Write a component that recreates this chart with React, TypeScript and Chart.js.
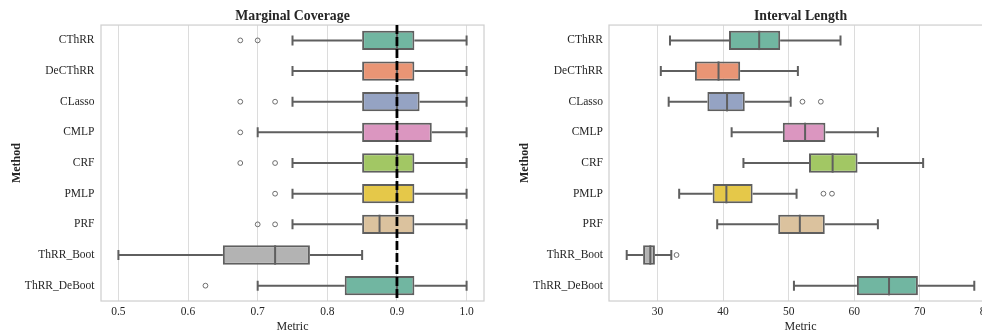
import React, { useEffect, useRef } from "react";
import { Chart, registerables } from "chart.js";

Chart.register(...registerables);

// ---------- data ----------
const METHODS = ["CThRR", "DeCThRR", "CLasso", "CMLP", "CRF", "PMLP", "PRF", "ThRR_Boot", "ThRR_DeBoot"];
const BOX_COLORS = ["#71b6a1", "#e99575", "#95a3c3", "#db96c0", "#a2c764", "#e5c849", "#dbc29e", "#b3b3b3", "#71b6a1"];

// Marginal coverage
const COV_MIN = [0.75, 0.75, 0.75, 0.7, 0.75, 0.75, 0.75, 0.5, 0.7];
const COV_Q1 = [0.85, 0.85, 0.85, 0.85, 0.85, 0.85, 0.85, 0.65, 0.825];
const COV_MED = [0.9, 0.9, 0.9, 0.9, 0.9, 0.9, 0.875, 0.725, 0.9];
const COV_Q3 = [0.925, 0.925, 0.9325, 0.95, 0.925, 0.925, 0.925, 0.775, 0.925];
const COV_MAX = [1.0, 1.0, 1.0, 1.0, 1.0, 1.0, 1.0, 0.85, 1.0];
const COV_OUTLIERS = [[0.675, 0.7], [], [0.675, 0.725], [0.675], [0.675, 0.725], [0.725], [0.7, 0.725], [], [0.625]];
const COV_TICKS = [0.5, 0.6, 0.7, 0.8, 0.9, 1.0];
const COV_TARGET = 0.9;

// Interval length
const LEN_MIN = [31.9, 30.5, 31.7, 41.3, 43.1, 33.3, 39.1, 25.3, 50.8];
const LEN_Q1 = [40.9, 35.7, 37.6, 49.1, 53.1, 38.4, 48.4, 27.8, 60.4];
const LEN_MED = [45.5, 39.3, 40.6, 52.5, 56.7, 40.5, 51.7, 28.9, 65.3];
const LEN_Q3 = [48.7, 42.6, 43.3, 55.6, 60.5, 44.5, 55.5, 29.6, 69.7];
const LEN_MAX = [57.9, 51.4, 50.3, 63.6, 70.5, 51.2, 63.6, 32.1, 78.3];
const LEN_OUTLIERS = [[], [], [52.1, 54.9], [], [], [55.3, 56.6], [], [32.9], []];
const LEN_TICKS = [30, 40, 50, 60, 70, 80];

// ---------- style ----------
const FONT = "'Liberation Serif', 'Times New Roman', serif";
const TEXT = "#262626";
const LINE = "#5f5f5f";
const GRID = "#dcdcdc";
const FRAME = "#d0d0d0";

type PanelProps = {
  title: string;
  mins: number[];
  q1: number[];
  med: number[];
  q3: number[];
  maxs: number[];
  outliers: number[][];
  ticks: number[];
  xMin: number;
  xMax: number;
  decimals: number;
  target?: number;
  left: number;
  width: number;
  yAxisWidth: number;
  yTitlePad: number;
  yTickPad: number;
};

function makeBoxPlugin(p: PanelProps) {
  return {
    id: "boxParts",
    beforeDatasetsDraw(chart: any) {
      const { ctx, chartArea } = chart;
      const xs = chart.scales.x;
      const ys = chart.scales.y;
      ctx.save();
      ctx.strokeStyle = FRAME;
      ctx.lineWidth = 1.25;
      ctx.strokeRect(chartArea.left, chartArea.top, chartArea.right - chartArea.left, chartArea.bottom - chartArea.top);
      ctx.strokeStyle = LINE;
      ctx.lineWidth = 2;
      ctx.lineCap = "butt";
      const cap = 5;
      METHODS.forEach((_, i) => {
        const y = ys.getPixelForValue(i);
        const xmin = xs.getPixelForValue(p.mins[i]);
        const xq1 = xs.getPixelForValue(p.q1[i]);
        const xq3 = xs.getPixelForValue(p.q3[i]);
        const xmax = xs.getPixelForValue(p.maxs[i]);
        ctx.beginPath();
        ctx.moveTo(xmin, y);
        ctx.lineTo(xq1, y);
        ctx.moveTo(xq3, y);
        ctx.lineTo(xmax, y);
        ctx.moveTo(xmin, y - cap);
        ctx.lineTo(xmin, y + cap);
        ctx.moveTo(xmax, y - cap);
        ctx.lineTo(xmax, y + cap);
        ctx.stroke();
      });
      ctx.restore();
    },
    afterDatasetsDraw(chart: any) {
      const { ctx, chartArea } = chart;
      const xs = chart.scales.x;
      const ys = chart.scales.y;
      const meta = chart.getDatasetMeta(0);
      ctx.save();
      ctx.strokeStyle = LINE;
      ctx.lineWidth = 2;
      METHODS.forEach((_, i) => {
        const bar = meta.data[i];
        const h = bar ? bar.height / 2 : 9;
        const y = ys.getPixelForValue(i);
        const xm = xs.getPixelForValue(p.med[i]);
        ctx.beginPath();
        ctx.moveTo(xm, y - h);
        ctx.lineTo(xm, y + h);
        ctx.stroke();
      });
      if (p.target !== undefined) {
        const xt = xs.getPixelForValue(p.target);
        ctx.strokeStyle = "#000000";
        ctx.lineWidth = 2.8;
        ctx.setLineDash([9, 3]);
        ctx.beginPath();
        ctx.moveTo(xt, chartArea.top);
        ctx.lineTo(xt, chartArea.bottom);
        ctx.stroke();
      }
      ctx.restore();
    },
  };
}

function BoxPanel(p: PanelProps) {
  const ref = useRef<HTMLCanvasElement | null>(null);
  useEffect(() => {
    if (!ref.current) return;
    const outlierPoints: { x: number; y: string }[] = [];
    p.outliers.forEach((list, i) => list.forEach((v) => outlierPoints.push({ x: v, y: METHODS[i] })));
    const chart = new Chart(ref.current, {
      type: "bar",
      data: {
        labels: METHODS,
        datasets: [
          {
            type: "bar",
            data: METHODS.map((_, i) => [p.q1[i], p.q3[i]]) as any,
            backgroundColor: BOX_COLORS,
            borderColor: LINE,
            borderWidth: 2,
            borderSkipped: false,
            barPercentage: 0.63,
            categoryPercentage: 1,
          } as any,
          {
            type: "scatter",
            data: outlierPoints as any,
            pointRadius: 2.4,
            pointBackgroundColor: "rgba(255,255,255,0)",
            pointBorderColor: LINE,
            pointBorderWidth: 0.9,
          } as any,
        ],
      },
      options: {
        indexAxis: "y",
        responsive: false,
        animation: false,
        devicePixelRatio: 1,
        layout: { padding: { left: 0, right: 7, top: 0, bottom: 0 } },
        plugins: {
          legend: { display: false },
          tooltip: { enabled: false },
          title: {
            display: true,
            text: p.title,
            fullSize: false,
            color: TEXT,
            font: { family: FONT, size: 13.8, weight: "bold" },
            padding: { top: 8.5, bottom: 0 },
          },
        },
        scales: {
          x: {
            type: "linear",
            min: p.xMin,
            max: p.xMax,
            afterBuildTicks: (s: any) => {
              s.ticks = p.ticks.map((v) => ({ value: v }));
            },
            afterFit: (s: any) => {
              s.height = 34;
            },
            ticks: {
              color: TEXT,
              font: { family: FONT, size: 11.5 },
              padding: 4.3,
              callback: (v: any) => Number(v).toFixed(p.decimals),
            },
            grid: { color: GRID, lineWidth: 1, drawTicks: false },
            border: { display: false },
            title: {
              display: true,
              text: "Metric",
              color: TEXT,
              font: { family: FONT, size: 12 },
              padding: { top: 0, bottom: 1.1 },
            },
          },
          y: {
            type: "category",
            afterFit: (s: any) => {
              s.width = p.yAxisWidth;
            },
            ticks: {
              color: TEXT,
              font: { family: FONT, size: 11.5 },
              padding: p.yTickPad,
            },
            grid: { display: false, drawTicks: false },
            border: { display: false },
            title: {
              display: true,
              text: "Method",
              color: TEXT,
              font: { family: FONT, size: 12, weight: "bold" },
              padding: { top: p.yTitlePad, bottom: 0 },
            },
          },
        },
      } as any,
      plugins: [makeBoxPlugin(p)],
    });
    return () => chart.destroy();
  }, []);
  return (
    <canvas
      ref={ref}
      width={p.width}
      height={335}
      style={{ position: "absolute", left: p.left, top: 0, width: p.width, height: 335 }}
    />
  );
}

export default function App() {
  return (
    <div
      style={{
        position: "fixed",
        left: 0,
        top: 0,
        width: 982,
        height: 335,
        overflow: "hidden",
        background: "#ffffff",
      }}
    >
      <BoxPanel
        title="Marginal Coverage"
        mins={COV_MIN}
        q1={COV_Q1}
        med={COV_MED}
        q3={COV_Q3}
        maxs={COV_MAX}
        outliers={COV_OUTLIERS}
        ticks={COV_TICKS}
        xMin={0.475}
        xMax={1.025}
        decimals={1}
        target={COV_TARGET}
        left={0}
        width={491}
        yAxisWidth={101}
        yTitlePad={9.3}
        yTickPad={6.5}
      />
      <BoxPanel
        title="Interval Length"
        mins={LEN_MIN}
        q1={LEN_Q1}
        med={LEN_MED}
        q3={LEN_Q3}
        maxs={LEN_MAX}
        outliers={LEN_OUTLIERS}
        ticks={LEN_TICKS}
        xMin={22.6}
        xMax={81.0}
        decimals={0}
        left={491}
        width={508}
        yAxisWidth={118}
        yTitlePad={26.3}
        yTickPad={6}
      />
    </div>
  );
}
